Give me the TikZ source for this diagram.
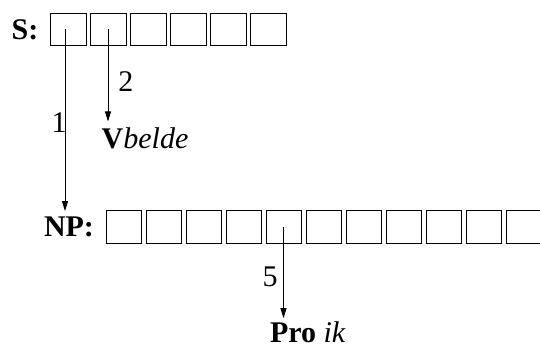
\documentclass[tikz,border=0pt]{standalone}
\usepackage{fontspec}
\setmainfont{Liberation Serif}
\usetikzlibrary{arrows.meta}
\begin{document}
\begin{tikzpicture}[x=1pt,y=1pt,
  cell/.style={draw, line width=0.9pt, minimum height=32.4pt, inner sep=0pt, outer sep=0pt},
  scell/.style={cell, minimum width=36pt},
  ncell/.style={cell, minimum width=35pt},
  lbl/.style={anchor=base west, inner sep=0pt, outer sep=0pt, font=\fontsize{30}{36}\selectfont},
  link/.style={line width=0.8pt, shorten >=6pt, -{Triangle[length=10pt,width=6pt]}}]
\useasboundingbox (0,0) rectangle (540,349);
\clip (0,0) rectangle (540,349);
% S row
\node[lbl] (s) at (11.7,309) {\textbf{S:}};
\foreach \i in {1,...,6} {
  \node[scell] (s\i) at ({68+40*(\i-1)},319.5) {};
}
% NP row
\node[lbl] (np) at (44,112.3) {\textbf{NP:}};
\foreach \i in {1,...,11} {
  \node[ncell] (n\i) at ({123.5+40*(\i-1)},121.9) {};
}
% labels
\node[lbl] (v) at (101.7,200.7) {\textbf{V}\textit{belde}};
\node[lbl] (pro) at (270,7) {\textbf{Pro} \textit{ik}};
\node[lbl] (l1) at (51.7,216.3) {1};
\node[lbl] (l2) at (118.3,257.3) {2};
\node[lbl] (l5) at (262.7,63) {5};
% connectors
\coordinate (a1) at ([xshift=-3pt]s1.center);
\coordinate (a2) at (s2.center);
\coordinate (a5) at (n5.center);
\draw[link] (a1) -- (a1 |- np.north);
\draw[link] (a2) -- (a2 |- v.north);
\draw[link, shorten >=3pt] (a5) -- (a5 |- pro.north);
\end{tikzpicture}
\end{document}
